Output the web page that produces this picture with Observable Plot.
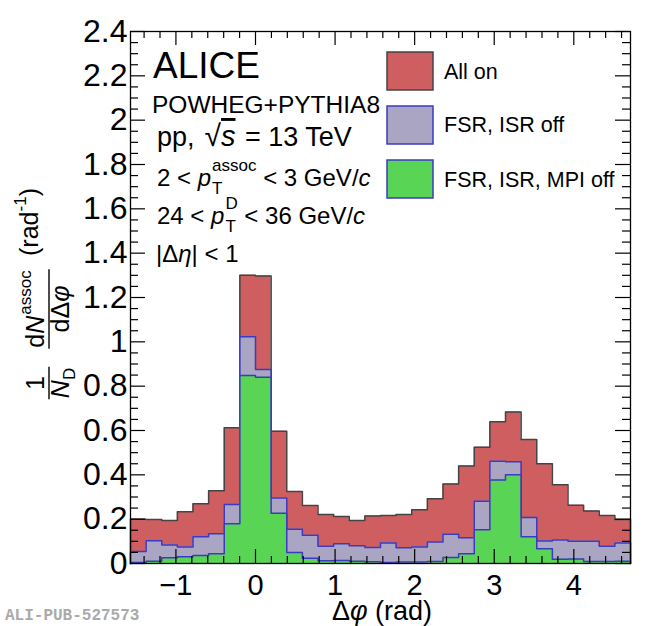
<!DOCTYPE html>
<html><head><meta charset="utf-8">
<script src="https://cdn.jsdelivr.net/npm/d3@7"></script>
<script src="https://cdn.jsdelivr.net/npm/@observablehq/plot@0.6"></script>
<style>body{margin:0;background:#fff}#chart svg{display:block}</style>
</head><body><div id="chart"></div>
<script>
// ---- data (32 bins of width pi/16 from -pi/2 to 3pi/2) ----
const allOn = [0.200,0.198,0.194,0.233,0.270,0.328,0.612,1.300,1.297,0.597,0.325,0.262,0.221,0.212,0.194,0.214,
               0.217,0.221,0.243,0.292,0.359,0.440,0.525,0.640,0.684,0.559,0.450,0.355,0.263,0.237,0.217,0.198];
const fsrIsrOff = [0.054,0.103,0.083,0.075,0.121,0.134,0.266,1.023,0.875,0.296,0.154,0.127,0.078,0.089,0.080,0.072,
                   0.093,0.071,0.075,0.097,0.132,0.116,0.281,0.461,0.459,0.208,0.102,0.106,0.100,0.100,0.078,0.093];
const mpiOff = [0.004,0.010,0.026,0.031,0.036,0.044,0.179,0.848,0.840,0.227,0.050,0.024,0.012,0.013,0.010,0.008,
                0.005,0.007,0.007,0.009,0.027,0.044,0.152,0.377,0.400,0.121,0.067,0.019,0.020,0.009,0.009,0.010];
const seriesNames = ["All on", "FSR, ISR off", "FSR, ISR, MPI off"];
const seriesFill = ["#cf5e61", "#a9a5c2", "#59d454"];
const seriesStroke = ["#444444", "#3a3ac4", "#3a3ac4"];
const xTickValues = [-1, 0, 1, 2, 3, 4];
const xTickLabels = ["\u22121", "0", "1", "2", "3", "4"];
const yTickValues = [0,0.2,0.4,0.6,0.8,1,1.2,1.4,1.6,1.8,2,2.2,2.4];
const yTickLabels = ["0","0.2","0.4","0.6","0.8","1","1.2","1.4","1.6","1.8","2","2.2","2.4"];

// ---- layout ----
const W = 650, H = 626, mL = 130, mR = 20, mT = 31, mB = 63;
const X0 = -Math.PI / 2, X1 = 3 * Math.PI / 2, Y1 = 2.4;
const pxX = (X1 - X0) / (W - mL - mR), pxY = Y1 / (H - mT - mB);
const edges = d3.range(33).map(k => X0 + k * (X1 - X0) / 32);
function steps(vals) {
  const pts = [{x: edges[0], y: 0}];
  vals.forEach((v, i) => pts.push({x: edges[i], y: v}));
  pts.push({x: edges[32], y: vals[31]});
  pts.push({x: edges[32], y: 0});
  return pts;
}
const xMinor = d3.range(-14, 47, 2).map(v => v / 10).filter(v => !xTickValues.includes(v));
const yMinor = d3.range(0, 49).filter(k => k % 4 !== 0).map(k => k / 20);
const FONT = "Liberation Sans, Arial, Helvetica, sans-serif";

const series = [allOn, fsrIsrOff, mpiOff];
const histMarks = series.flatMap((vals, i) => [
  Plot.areaY(steps(vals), {x: "x", y: "y", curve: "step-after", fill: seriesFill[i]}),
  Plot.line(steps(vals), {x: "x", y: "y", curve: "step-after", stroke: seriesStroke[i], strokeWidth: 1.5})
]);

const chart = Plot.plot({
  width: W, height: H,
  marginLeft: mL, marginRight: mR, marginTop: mT, marginBottom: mB,
  style: {fontFamily: FONT, background: "white", overflow: "visible"},
  x: {domain: [X0, X1], axis: null},
  y: {domain: [0, Y1], axis: null},
  marks: [
    ...histMarks,
    Plot.ruleX(xTickValues, {x: d => d, y1: 0, y2: 14 * pxY, stroke: "black", strokeWidth: 1.2}),
    Plot.ruleX(xTickValues, {x: d => d, y1: Y1, y2: Y1 - 14 * pxY, stroke: "black", strokeWidth: 1.2}),
    Plot.ruleX(xMinor, {x: d => d, y1: 0, y2: 7 * pxY, stroke: "black", strokeWidth: 1.2}),
    Plot.ruleX(xMinor, {x: d => d, y1: Y1, y2: Y1 - 7 * pxY, stroke: "black", strokeWidth: 1.2}),
    Plot.ruleY(yTickValues, {y: d => d, x1: X0, x2: X0 + 15 * pxX, stroke: "black", strokeWidth: 1.2}),
    Plot.ruleY(yTickValues, {y: d => d, x1: X1, x2: X1 - 15 * pxX, stroke: "black", strokeWidth: 1.2}),
    Plot.ruleY(yMinor, {y: d => d, x1: X0, x2: X0 + 8 * pxX, stroke: "black", strokeWidth: 1.2}),
    Plot.ruleY(yMinor, {y: d => d, x1: X1, x2: X1 - 8 * pxX, stroke: "black", strokeWidth: 1.2}),
    Plot.frame({stroke: "black", strokeWidth: 1.3}),
    Plot.text(xTickValues, {x: d => d, y: 0, text: (d, i) => xTickLabels[i], dy: 31, lineAnchor: "bottom", textAnchor: "middle", fontSize: 29, fill: "black"}),
    Plot.text(yTickValues, {x: X0, y: d => d, text: (d, i) => yTickLabels[i], dx: -3, textAnchor: "end", fontSize: 32, fill: "black"})
  ]
});
document.getElementById("chart").append(chart);

// ---- annotations ----
const svg = d3.select(chart);
function rich(g, x, y, parts, anchor, size) {
  const grp = g.append("g").attr("font-size", size).attr("text-anchor", "start");
  let cx = 0;
  for (const p of parts) {
    const items = p.stack || [p];
    let w = 0;
    for (const q of items) {
      const el = grp.append("text").attr("x", cx).attr("y", q.dy || 0)
        .attr("fill", "black")
        .attr("text-anchor", "start")
        .attr("font-size", q.s || null)
        .attr("font-style", q.i ? "italic" : null)
        .attr("text-decoration", q.o ? "overline" : null)
        .style("white-space", "pre")
        .text(q.t);
      w = Math.max(w, el.node().getComputedTextLength());
    }
    cx += w + (p.gap || 0);
  }
  const shift = anchor === "middle" ? -cx / 2 : anchor === "end" ? -cx : 0;
  grp.attr("transform", `translate(${x + shift},${y})`);
  return cx;
}
const ann = svg.append("g").attr("font-family", FONT).attr("text-anchor", "start");
rich(ann, 153, 78, [{t: "ALICE"}], "start", 37);
rich(ann, 152, 113, [{t: "POWHEG+PYTHIA8"}], "start", 24.5);
rich(ann, 157, 146, [{t: "pp,", gap: 10}, {t: "\u221A", s: 30}, {t: "s", i: 1, o: 1, s: 29, gap: 2}, {t: " = 13 TeV"}], "start", 27);
rich(ann, 157, 186, [{t: "2 < "}, {t: "p", i: 1, gap: 1}, {stack: [{t: "assoc", s: 17, dy: -15}, {t: "T", s: 17, dy: 8}]}, {t: " < 3 GeV/"}, {t: "c", i: 1}], "start", 24);
rich(ann, 157, 224, [{t: "24 < "}, {t: "p", i: 1, gap: 1}, {stack: [{t: "D", s: 17, dy: -15}, {t: "T", s: 17, dy: 8}]}, {t: " < 36 GeV/"}, {t: "c", i: 1}], "start", 24);
rich(ann, 156, 262, [{t: "|\u0394"}, {t: "\u03B7", i: 1}, {t: "| < 1"}], "start", 24);

// legend
const legY = [52, 106, 160], legBase = [79, 132, 187];
seriesNames.forEach((name, i) => {
  ann.append("rect").attr("x", 387).attr("y", legY[i]).attr("width", 46).attr("height", 38)
    .attr("fill", seriesFill[i]).attr("stroke", seriesStroke[i]).attr("stroke-width", 1.5);
  rich(ann, 444, legBase[i], [{t: name}], "start", 21.5);
});

// x-axis title
rich(ann, 382, 620, [{t: "\u0394"}, {t: "\u03C6", i: 1}, {t: " (rad)"}], "middle", 27);

// y-axis title (rotated)
const yt = ann.append("g").attr("transform", "rotate(-90)");
const fs = 25;
let wA1 = rich(yt, -383, 44, [{t: "1"}], "middle", fs);
let wA2 = rich(yt, -383, 69, [{t: "N", i: 1}, {t: "D", s: 17, dy: 6}], "middle", fs);
let wA = Math.max(wA1, wA2) + 2;
yt.append("line").attr("x1", -383 - wA / 2).attr("x2", -383 + wA / 2).attr("y1", 49).attr("y2", 49).attr("stroke", "black").attr("stroke-width", 1.4);
let wB1 = rich(yt, -309, 44, [{t: "d"}, {t: "N", i: 1, gap: 1}, {t: "assoc", s: 17, dy: -13}], "middle", fs);
let wB2 = rich(yt, -309, 69, [{t: "d\u0394"}, {t: "\u03C6", i: 1}], "middle", fs);
let wB = Math.max(wB1, wB2) + 2;
yt.append("line").attr("x1", -309 - wB / 2).attr("x2", -309 + wB / 2).attr("y1", 49).attr("y2", 49).attr("stroke", "black").attr("stroke-width", 1.4);
rich(yt, -222, 38, [{t: "(rad"}, {t: "-1", s: 17, dy: -12}, {t: ")"}], "middle", fs);

// publication id
ann.append("text").attr("x", 5).attr("y", 620).attr("text-anchor", "start")
  .attr("font-family", "Liberation Mono, DejaVu Sans Mono, monospace")
  .attr("font-weight", "bold").attr("font-size", 16).attr("fill", "#aaaaaa").text("ALI-PUB-527573");
</script>
</body></html>
